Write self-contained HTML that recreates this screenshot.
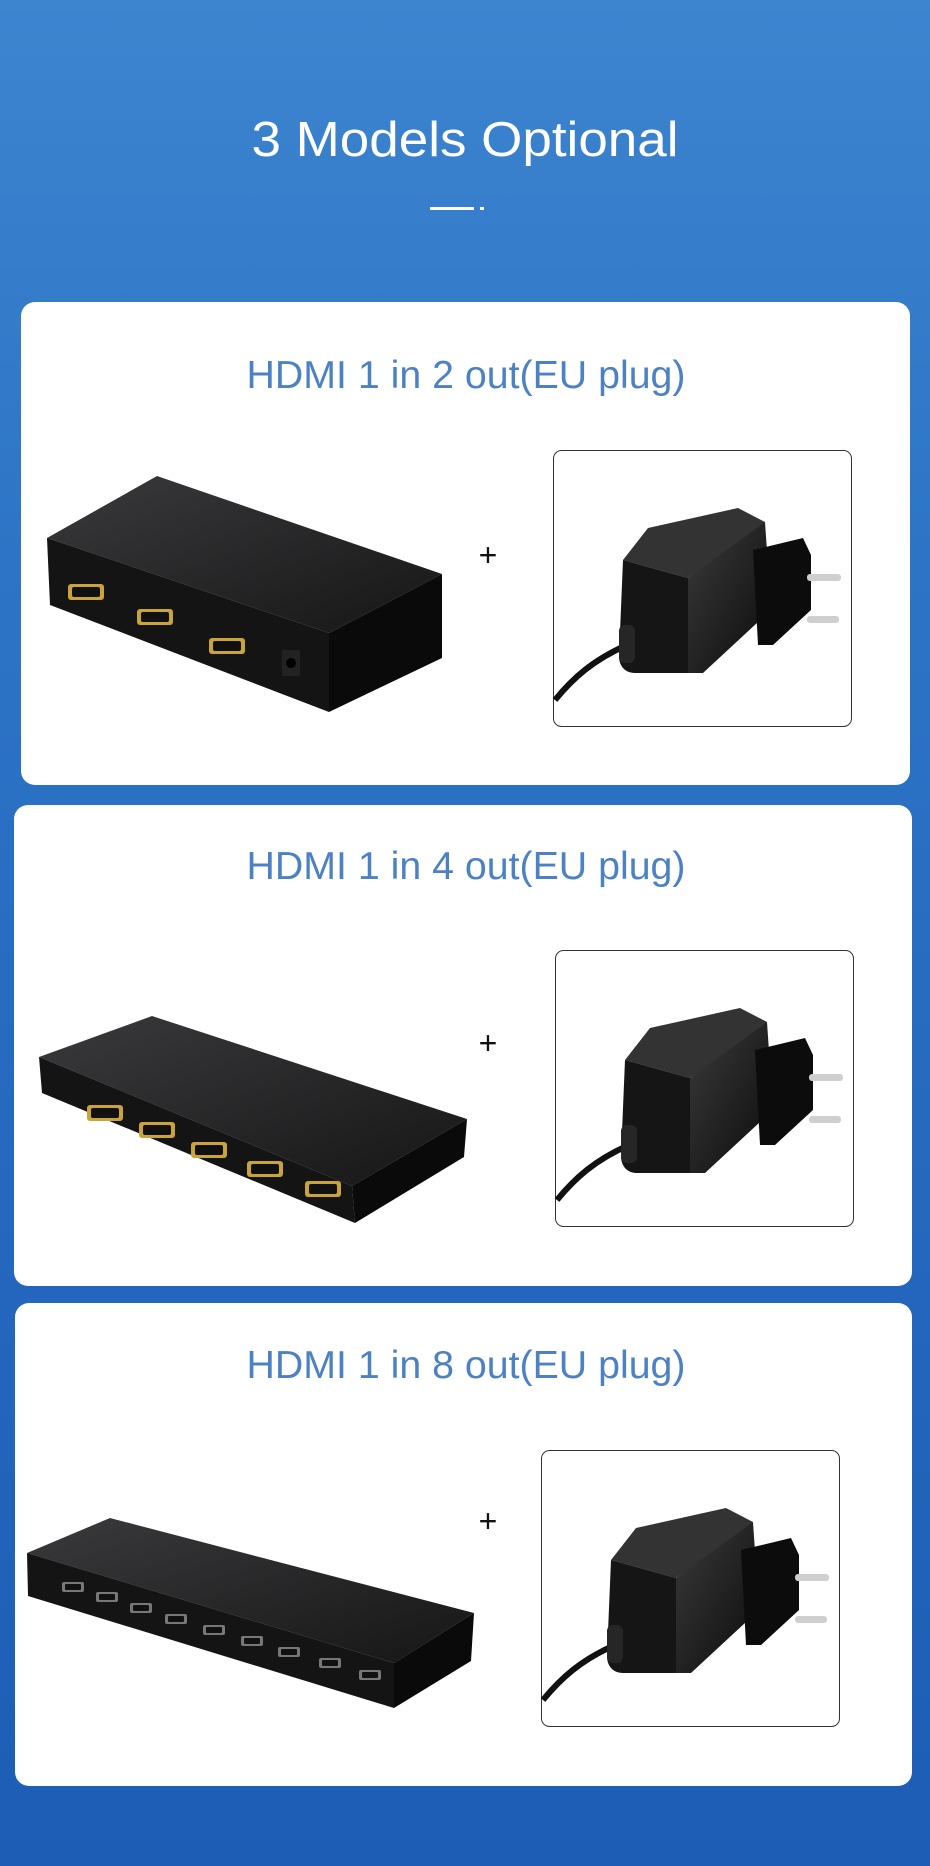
<!DOCTYPE html>
<html><head><meta charset="utf-8"><style>
html,body{margin:0;padding:0;}
body{width:930px;height:1866px;overflow:hidden;background:linear-gradient(180deg,#3d85cf 0%,#2d74c6 30%,#2466bd 70%,#1d5db5 100%);}
svg{display:block}
</style></head><body>
<svg width="930" height="1866" viewBox="0 0 930 1866" xmlns="http://www.w3.org/2000/svg">
<defs>
<linearGradient id="top" x1="0" y1="0" x2="1" y2="1"><stop offset="0" stop-color="#3a3a3c"/><stop offset="1" stop-color="#161617"/></linearGradient>
<linearGradient id="ad" x1="0" y1="0" x2="1" y2="1"><stop offset="0" stop-color="#3a3a3a"/><stop offset="1" stop-color="#0c0c0c"/></linearGradient>
<g id="adapter">
 <path d="M74,195 C40,210 20,228 2,250" stroke="#111" stroke-width="6" fill="none"/>
 <polygon points="70,110 95,78 185,58 212,72 205,80 135,128" fill="#333"/>
 <path d="M70,110 L135,128 L135,223 L82,223 C72,223 66,216 66,206 Z" fill="#151515"/>
 <polygon points="135,128 212,72 218,160 150,223 135,223" fill="url(#ad)"/>
 <polygon points="200,100 250,88 258,105 258,160 220,195 205,195" fill="#0c0c0c"/>
 <rect x="254" y="124" width="34" height="7" rx="3" fill="#cfcfcf"/>
 <rect x="254" y="166" width="32" height="7" rx="3" fill="#cfcfcf"/>
 <rect x="66" y="175" width="16" height="38" rx="6" fill="#262626"/>
</g>
<g id="port"><rect x="-18" y="-8" width="36" height="16" rx="3" fill="#c9a43a"/><rect x="-14" y="-5" width="28" height="10" rx="2" fill="#111"/></g>
<g id="sport"><rect x="-11" y="-5" width="22" height="10" rx="2" fill="#777"/><rect x="-8" y="-3" width="16" height="6" rx="1" fill="#111"/></g>
</defs>

<text x="465" y="156" text-anchor="middle" font-family="Liberation Sans, sans-serif" font-size="49" fill="#fff" textLength="427" lengthAdjust="spacingAndGlyphs">3 Models Optional</text>
<rect x="430" y="207" width="44" height="3" fill="#fff"/><rect x="480" y="207" width="4" height="3" fill="#fff"/>

<!-- Card 1 -->
<rect x="21" y="302" width="889" height="483" rx="14" fill="#fff"/>
<text x="466" y="388" text-anchor="middle" font-family="Liberation Sans, sans-serif" font-size="39" fill="#4c82c4" textLength="439" lengthAdjust="spacingAndGlyphs">HDMI 1 in 2 out(EU plug)</text>
<polygon points="47,538 157,476 442,574 329,633" fill="url(#top)"/>
<polygon points="47,538 329,633 329,712 50,605" fill="#141414"/>
<polygon points="329,633 442,574 442,658 329,712" fill="#0a0a0a"/>
<use href="#port" x="86" y="592"/><use href="#port" x="155" y="617"/><use href="#port" x="227" y="646"/>
<rect x="282" y="650" width="18" height="26" fill="#222"/><circle cx="291" cy="663" r="5" fill="#000"/>
<text x="488" y="566" text-anchor="middle" font-family="Liberation Sans, sans-serif" font-size="32" fill="#111">+</text>
<rect x="553.5" y="450.5" width="298" height="276" rx="8" fill="#fff" stroke="#333" stroke-width="1"/>
<g transform="translate(553,450)"><use href="#adapter"/></g>

<!-- Card 2 -->
<rect x="14" y="805" width="898" height="481" rx="14" fill="#fff"/>
<text x="466" y="879" text-anchor="middle" font-family="Liberation Sans, sans-serif" font-size="39" fill="#4c82c4" textLength="439" lengthAdjust="spacingAndGlyphs">HDMI 1 in 4 out(EU plug)</text>
<polygon points="39,1057 152,1016 467,1119 352,1186" fill="url(#top)"/>
<polygon points="39,1057 352,1186 355,1223 42,1093" fill="#141414"/>
<polygon points="352,1186 467,1119 464,1157 355,1223" fill="#0a0a0a"/>
<use href="#port" x="105" y="1113"/><use href="#port" x="157" y="1130"/><use href="#port" x="209" y="1150"/><use href="#port" x="265" y="1169"/><use href="#port" x="323" y="1189"/>
<text x="488" y="1054" text-anchor="middle" font-family="Liberation Sans, sans-serif" font-size="32" fill="#111">+</text>
<rect x="555.5" y="950.5" width="298" height="276" rx="8" fill="#fff" stroke="#333" stroke-width="1"/>
<g transform="translate(555,950)"><use href="#adapter"/></g>

<!-- Card 3 -->
<rect x="15" y="1303" width="897" height="483" rx="14" fill="#fff"/>
<text x="466" y="1378" text-anchor="middle" font-family="Liberation Sans, sans-serif" font-size="39" fill="#4c82c4" textLength="439" lengthAdjust="spacingAndGlyphs">HDMI 1 in 8 out(EU plug)</text>
<polygon points="27,1553 110,1518 474,1613 394,1663" fill="url(#top)"/>
<polygon points="27,1553 394,1663 394,1708 28,1596" fill="#141414"/>
<polygon points="394,1663 474,1613 471,1661 394,1708" fill="#0a0a0a"/>
<use href="#sport" x="73" y="1587"/><use href="#sport" x="107" y="1597"/><use href="#sport" x="141" y="1608"/><use href="#sport" x="176" y="1619"/><use href="#sport" x="214" y="1630"/><use href="#sport" x="252" y="1641"/><use href="#sport" x="289" y="1652"/><use href="#sport" x="330" y="1663"/><use href="#sport" x="370" y="1675"/>
<text x="488" y="1532" text-anchor="middle" font-family="Liberation Sans, sans-serif" font-size="32" fill="#111">+</text>
<rect x="541.5" y="1450.5" width="298" height="276" rx="8" fill="#fff" stroke="#333" stroke-width="1"/>
<g transform="translate(541,1450)"><use href="#adapter"/></g>
</svg>
</body></html>
